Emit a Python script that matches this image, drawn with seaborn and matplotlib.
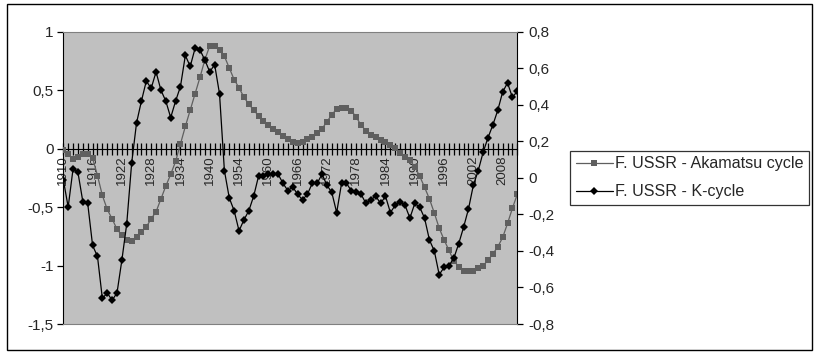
import pandas as pd
import seaborn as sns
import matplotlib
matplotlib.use('Agg')
import matplotlib.pyplot as plt
from matplotlib.ticker import FuncFormatter
from matplotlib.patches import Rectangle

# categories (war years missing in the source series)
years = list(range(1910, 1941)) + list(range(1949, 2012))

# left axis series
akamatsu = [-0.01, -0.05, -0.09, -0.07, -0.05, -0.05, -0.08,
            -0.23, -0.40, -0.52, -0.60, -0.69, -0.74, -0.78, -0.79, -0.76,
            -0.71, -0.67, -0.60, -0.54, -0.43, -0.32, -0.22, -0.11, 0.04,
            0.19, 0.33, 0.47, 0.61, 0.76, 0.88, 0.88, 0.84, 0.79, 0.69,
            0.59, 0.52, 0.44, 0.38, 0.33, 0.28, 0.24, 0.20, 0.17, 0.14,
            0.11, 0.08, 0.06, 0.05,
            0.06, 0.08, 0.10, 0.13, 0.17, 0.23, 0.29, 0.34, 0.345, 0.345,
            0.325, 0.27, 0.20, 0.153, 0.117, 0.097, 0.074, 0.054, 0.03, 0.003,
            -0.035, -0.07, -0.10, -0.155, -0.235, -0.33, -0.43, -0.55, -0.68, -0.78,
            -0.87, -0.96, -1.01, -1.045, -1.05, -1.045, -1.02, -1.0, -0.955, -0.90,
            -0.84, -0.76, -0.64, -0.51, -0.39]

# right axis series
k_cycle = [-0.01, -0.16, 0.05, 0.03, -0.13, -0.14, -0.37, -0.43, -0.66, -0.63,
           -0.67, -0.63, -0.45, -0.25, 0.08, 0.30, 0.42, 0.53, 0.49, 0.58,
           0.48, 0.42, 0.33, 0.42, 0.50, 0.67, 0.61, 0.71, 0.70, 0.645,
           0.58, 0.62, 0.46, 0.04, -0.11, -0.18, -0.29, -0.23, -0.18, -0.10,
           0.01, 0.01, 0.02, 0.02, 0.02, -0.03, -0.07, -0.05, -0.09, -0.12,
           -0.09, -0.03, -0.03, 0.02, -0.04, -0.08, -0.19, -0.03, -0.03, -0.07,
           -0.08, -0.09, -0.14, -0.12, -0.10, -0.14, -0.10, -0.19, -0.15, -0.13,
           -0.15, -0.22, -0.14, -0.16, -0.22, -0.34, -0.40, -0.53, -0.49, -0.48,
           -0.44, -0.36, -0.27, -0.17, -0.04, 0.04, 0.14, 0.22, 0.29, 0.37,
           0.47, 0.52, 0.44, 0.475]

left_ticks = [-1.5, -1, -0.5, 0, 0.5, 1]
right_ticks = [-0.8, -0.6, -0.4, -0.2, 0, 0.2, 0.4, 0.6, 0.8]
label_names = ['F. USSR - Akamatsu cycle', 'F. USSR - K-cycle']

df = pd.DataFrame({'pos': range(len(years)), 'year': years,
                   'akamatsu': akamatsu, 'k_cycle': k_cycle})

sns.set_style('white')
plt.rcParams['font.family'] = ['Liberation Sans', 'DejaVu Sans']

W, H = 815, 354
fig = plt.figure(figsize=(W / 100, H / 100), dpi=100)
ax = fig.add_axes([63.3 / W, 1 - 324 / H, 454 / W, 292.3 / H])
ax.set_facecolor('#c0c0c0')
ax2 = ax.twinx()

sns.lineplot(data=df, x='pos', y='akamatsu', ax=ax, color='#5f5f5f',
             marker='s', markersize=4.6, markeredgewidth=0, linewidth=0.9,
             label=label_names[0], zorder=3)
sns.lineplot(data=df, x='pos', y='k_cycle', ax=ax2, color='black',
             marker='D', markersize=4.4, markeredgewidth=0, linewidth=0.9,
             label=label_names[1], zorder=3)

comma = FuncFormatter(lambda v, p: ('%g' % round(v, 2)).replace('.', ','))

# x axis crossing at 0 of the left axis
n = len(years)
ax.set_xlim(0, n - 1)
ax.set_xticks(range(n))
ax.set_xticklabels([str(y) if i % 6 == 0 else '' for i, y in enumerate(years)])
ax.spines['bottom'].set_position(('data', 0))
ax.tick_params(axis='x', bottom=True, direction='inout', length=8, width=0.9,
               labelsize=9.5, labelrotation=90, pad=1, color='black')

ax.set_ylim(-1.5, 1)
ax.set_yticks(left_ticks)
ax.yaxis.set_major_formatter(comma)
ax.tick_params(axis='y', left=True, direction='out', length=4, width=0.9,
               labelsize=11, pad=3, color='black')

ax2.set_ylim(-0.8, 0.8)
ax2.set_yticks(right_ticks)
ax2.yaxis.set_major_formatter(comma)
ax2.tick_params(axis='y', right=True, direction='out', length=4, width=0.9,
                labelsize=11, pad=4, color='black')

for s in ['top', 'right']:
    ax.spines[s].set_visible(False)
ax.spines['left'].set_color('black')
ax.spines['bottom'].set_color('black')
ax2.spines['left'].set_visible(False)
ax2.spines['right'].set_color('black')
ax2.spines['top'].set_color('#808080')
ax2.spines['bottom'].set_color('#808080')

for a in (ax, ax2):
    a.set_xlabel('')
    a.set_ylabel('')

h1, _ = ax.get_legend_handles_labels()
h2, _ = ax2.get_legend_handles_labels()
ax.get_legend().remove()
ax2.get_legend().remove()
leg = fig.legend(h1 + h2, label_names, loc='upper left',
                 bbox_to_anchor=(570 / W, 1 - 150.7 / H), borderaxespad=0,
                 frameon=True, fancybox=False, edgecolor='black', fontsize=11.6,
                 handlelength=2.3, handletextpad=0.15, labelspacing=0.8,
                 borderpad=0.35)
leg.get_frame().set_linewidth(0.9)

# chart area border
fig.add_artist(Rectangle((7 / W, 4 / H), 805 / W, 346 / H, transform=fig.transFigure,
                         fill=False, edgecolor='black', linewidth=1))

fig.savefig('out.png', dpi=100)
